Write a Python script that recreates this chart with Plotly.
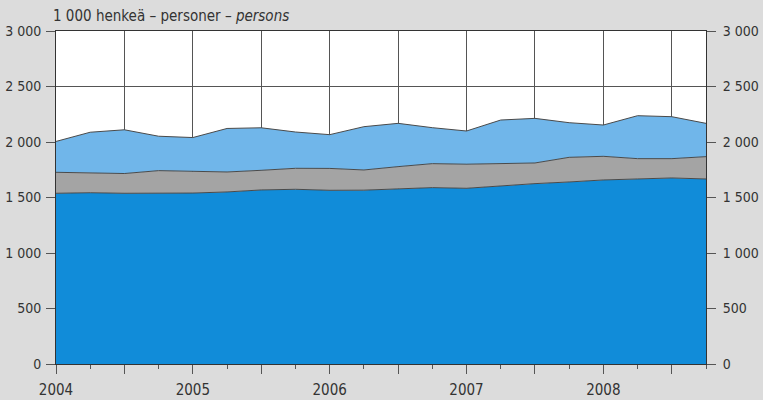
import plotly.graph_objects as go

quarters = [2004 + 0.25 * i for i in range(20)]
# Stacked layer values (1 000 persons)
total_top = [2005, 2088, 2110, 2052, 2040, 2122, 2128, 2090, 2066, 2138,
             2168, 2129, 2099, 2198, 2213, 2174, 2153, 2237, 2228, 2168]
gray_top = [1727, 1724, 1716, 1742, 1739, 1730, 1745, 1763, 1762, 1748,
            1778, 1805, 1800, 1808, 1811, 1862, 1871, 1850, 1850, 1868]
blue_layer = [1538, 1543, 1538, 1540, 1540, 1550, 1568, 1574, 1565, 1566,
              1577, 1589, 1583, 1607, 1625, 1640, 1658, 1667, 1676, 1667]
gray_layer = [g - b for g, b in zip(gray_top, blue_layer)]
light_layer = [t - g for t, g in zip(total_top, gray_top)]

y_ticks = [0, 500, 1000, 1500, 2000, 2500, 3000]
y_labels = ["0", "500", "1 000", "1 500", "2 000", "2 500", "3 000"]
x_ticks = [2004 + 0.5 * i for i in range(10)]
x_labels = ["2004", "", "2005", "", "2006", "", "2007", "", "2008", ""]

FONT = "DejaVu Sans Condensed, sans-serif"
LINE = "#4a4a4a"
TXT = "#333333"


def tfont(size=14):
    return dict(family=FONT, size=size, color=TXT)


fig = go.Figure()
for vals, col in [(blue_layer, "#118cd9"), (gray_layer, "#a4a4a4"), (light_layer, "#70b6ea")]:
    fig.add_trace(go.Scatter(x=quarters, y=vals, stackgroup="one", mode="lines",
                             line=dict(color=LINE, width=1), fillcolor=col,
                             hoverinfo="skip", showlegend=False))
fig.add_trace(go.Scatter(x=[quarters[0]], y=[0], yaxis="y2", mode="markers",
                         marker=dict(opacity=0), showlegend=False, hoverinfo="skip"))

axis_common = dict(range=[0, 3000], tickvals=y_ticks, ticktext=y_labels,
                   ticks="outside", ticklen=9, tickcolor="#555", showline=True,
                   linecolor="#333", linewidth=1, automargin=False,
                   tickfont=tfont(14))
fig.update_layout(
    width=763, height=400,
    margin=dict(l=56, r=57, t=31, b=36),
    paper_bgcolor="#dcdcdc", plot_bgcolor="white",
    xaxis=dict(range=[2004, 2008.75], tickvals=x_ticks, ticktext=x_labels,
               ticks="outside", ticklen=9, tickcolor="#555",
               showgrid=True, gridcolor="#555", gridwidth=1,
               showline=True, linecolor="#333", linewidth=1, mirror=True,
               zeroline=False, automargin=False, ticklabelstandoff=3,
               minor=dict(dtick=0.25, tick0=2004, ticks="outside", ticklen=4,
                          tickcolor="#555", showgrid=False),
               tickfont=tfont(15)),
    yaxis=dict(side="left", showgrid=True, gridcolor="#555", gridwidth=1,
               zeroline=False, ticklabelstandoff=2, **axis_common),
    yaxis2=dict(side="right", overlaying="y", showgrid=False, zeroline=False,
                ticklabelstandoff=4, **axis_common),
    annotations=[dict(xref="paper", yref="paper", x=-0.008, y=1.0, xanchor="left",
                      yanchor="bottom", yshift=4, showarrow=False,
                      text="1 000 henkeä – personer – <i>persons</i>",
                      font=tfont(15))],
)
fig.write_html("out.html", config={"displayModeBar": False},
               post_script="document.body.style.margin='0';document.body.style.overflow='hidden';")
